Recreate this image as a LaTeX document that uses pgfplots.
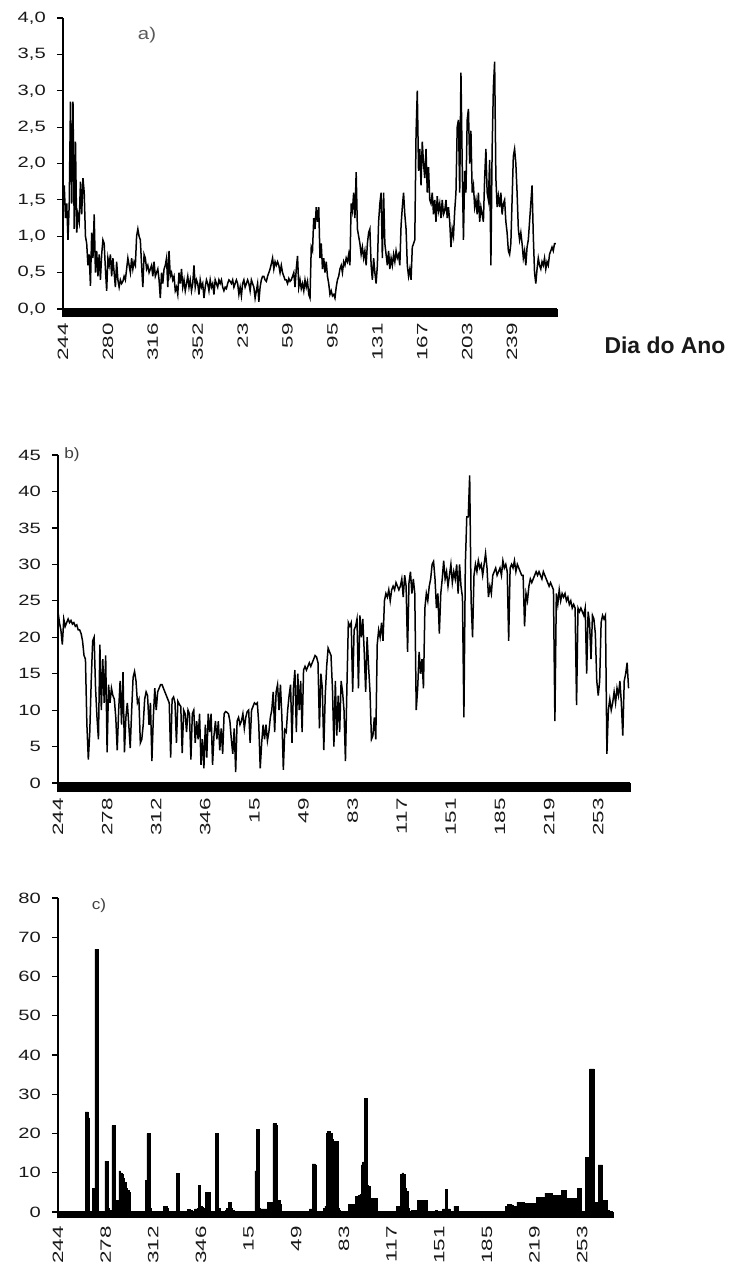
\documentclass[border=0pt]{standalone}
\usepackage{pgfplots}
\pgfplotsset{compat=1.18}
\usepackage{fontspec}
\setmainfont{Liberation Sans}
\begin{document}
\begin{tikzpicture}[x=1bp,y=1bp]
\path[use as bounding box] (0,0) rectangle (738,-1271);
\pgfplotsset{
  panel/.style={
    scale only axis,
    axis lines=left,
    axis line style={-, line width=1.3bp, black},
    xmin=0, xmax=396, ymin=0,
    tick align=outside,
    major tick length=6bp,
    tick style={black, line width=1.2bp},
    minor tick style={line width=1.5bp},
    minor xtick={0,1,...,396},
    xticklabel shift=8bp,
    yticklabel shift=11bp,
    xticklabel style={rotate=90, anchor=east, inner sep=0pt, xscale=1.5,
      font=\fontsize{15}{15}\selectfont, text=black!90},
    yticklabel style={anchor=east, inner sep=0pt, xscale=1.35,
      font=\fontsize{15}{15}\selectfont, text=black!90},
    clip=false,
  }
}
% ---------------- panel a
\begin{axis}[panel, at={(63bp,-309bp)}, anchor=south west,
  width=494bp, height=291bp, ymax=4, minor tick length=8bp,
  ytick={0,0.5,1,1.5,2,2.5,3,3.5,4},
  yticklabels={{0,0},{0,5},{1,0},{1,5},{2,0},{2,5},{3,0},{3,5},{4,0}},
  xtick={0,36,72,108,144,180,216,252,288,324,360},
  xticklabels={244,280,316,352,23,59,95,131,167,203,239}]
\addplot[black, line width=1.5bp, mark=none] table[row sep=\\, header=false, x expr=\coordindex, y index=0] {
1.5\\1.7\\1.25\\1.45\\0.95\\1.45\\2.85\\1.45\\2.85\\1.1\\
2.3\\1.05\\1.3\\1.2\\1.75\\1.3\\1.8\\1.6\\1.0\\0.9\\
0.6\\0.75\\0.32\\1.05\\0.7\\1.3\\0.5\\0.8\\0.45\\0.75\\
0.4\\0.75\\0.95\\0.9\\0.55\\0.25\\0.7\\0.6\\0.75\\0.45\\
0.7\\0.5\\0.3\\0.65\\0.4\\0.3\\0.4\\0.35\\0.38\\0.45\\
0.4\\0.55\\0.7\\0.6\\0.5\\0.7\\0.55\\0.65\\0.6\\1.0\\
1.1\\1.0\\0.95\\0.6\\0.3\\0.75\\0.7\\0.55\\0.6\\0.5\\
0.55\\0.6\\0.45\\0.65\\0.45\\0.5\\0.55\\0.4\\0.15\\0.5\\
0.35\\0.55\\0.6\\0.7\\0.3\\0.8\\0.45\\0.5\\0.4\\0.45\\
0.25\\0.3\\0.2\\0.5\\0.35\\0.55\\0.3\\0.4\\0.25\\0.35\\
0.45\\0.3\\0.4\\0.25\\0.35\\0.6\\0.3\\0.4\\0.35\\0.2\\
0.4\\0.3\\0.35\\0.15\\0.3\\0.4\\0.35\\0.25\\0.4\\0.3\\
0.35\\0.2\\0.4\\0.35\\0.3\\0.4\\0.35\\0.4\\0.3\\0.25\\
0.3\\0.28\\0.35\\0.4\\0.38\\0.35\\0.4\\0.3\\0.35\\0.4\\
0.35\\0.2\\0.3\\0.18\\0.35\\0.4\\0.3\\0.35\\0.4\\0.35\\
0.25\\0.4\\0.35\\0.3\\0.15\\0.25\\0.35\\0.1\\0.3\\0.4\\
0.45\\0.45\\0.4\\0.38\\0.45\\0.5\\0.55\\0.62\\0.7\\0.55\\
0.65\\0.6\\0.65\\0.6\\0.5\\0.6\\0.5\\0.45\\0.4\\0.4\\
0.35\\0.42\\0.38\\0.4\\0.45\\0.5\\0.3\\0.55\\0.73\\0.3\\
0.4\\0.28\\0.35\\0.25\\0.4\\0.3\\0.38\\0.2\\0.15\\0.85\\
0.8\\1.25\\1.1\\1.4\\1.2\\1.4\\0.7\\0.9\\0.55\\0.7\\
0.5\\0.65\\0.45\\0.35\\0.2\\0.25\\0.18\\0.2\\0.15\\0.3\\
0.4\\0.45\\0.55\\0.6\\0.5\\0.65\\0.6\\0.7\\0.65\\0.75\\
0.6\\1.45\\1.35\\1.6\\1.25\\1.88\\1.1\\1.0\\0.9\\0.75\\
0.85\\0.7\\0.8\\0.6\\0.9\\1.05\\1.1\\0.6\\0.4\\0.7\\
0.5\\0.35\\0.6\\1.2\\1.45\\1.6\\0.7\\1.6\\0.9\\0.75\\
0.6\\0.8\\0.55\\0.7\\0.6\\0.75\\0.65\\0.8\\0.7\\0.75\\
0.6\\1.15\\1.4\\1.6\\1.3\\1.1\\0.6\\0.45\\0.55\\0.4\\
0.85\\0.9\\0.95\\2.4\\3.0\\1.9\\2.2\\1.7\\2.3\\2.0\\
1.8\\2.2\\1.6\\1.95\\1.5\\1.45\\1.6\\1.3\\1.5\\1.2\\
1.55\\1.35\\1.45\\1.25\\1.5\\1.3\\1.35\\1.5\\1.25\\1.4\\
1.2\\0.85\\1.1\\1.0\\1.35\\1.6\\2.5\\2.6\\1.6\\3.25\\
2.0\\0.95\\1.9\\1.6\\2.6\\2.75\\2.0\\2.45\\1.6\\1.7\\
1.4\\1.5\\1.3\\1.6\\1.2\\1.4\\1.3\\1.2\\1.8\\2.2\\
1.6\\1.5\\2.05\\0.6\\2.2\\3.05\\3.4\\1.8\\1.4\\1.55\\
1.4\\1.6\\1.3\\1.45\\1.5\\1.2\\1.05\\0.8\\0.75\\0.9\\
1.5\\2.1\\2.2\\2.0\\1.6\\1.1\\0.95\\1.05\\0.9\\0.7\\
0.8\\0.6\\0.85\\0.95\\1.2\\1.45\\1.7\\1.0\\0.5\\0.35\\
0.55\\0.7\\0.6\\0.55\\0.65\\0.6\\0.7\\0.55\\0.65\\0.6\\
0.75\\0.8\\0.85\\0.8\\0.9\\0.9\\
};
\end{axis}
% ---------------- panel b
\begin{axis}[panel, at={(58bp,-783bp)}, anchor=south west,
  width=572bp, height=328bp, ymax=45, minor tick length=9bp,
  xticklabel shift=9bp,
  ytick={0,5,10,15,20,25,30,35,40,45},
  yticklabels={0,5,10,15,20,25,30,35,40,45},
  xtick={0,34,68,102,136,170,204,238,272,306,340,374},
  xticklabels={244,278,312,346,15,49,83,117,151,185,219,253}]
\addplot[black, line width=1.5bp, mark=none] table[row sep=\\, header=false, x expr=\coordindex, y index=0] {
23.5\\22\\21\\19\\22.5\\21.5\\22\\22.5\\22\\22.3\\
21.8\\22\\21.5\\21.7\\21\\21\\20.5\\19.5\\17.5\\17\\
8\\3.2\\7\\14\\19.5\\20\\13\\9\\6\\19\\
10\\17\\11\\17.5\\4.2\\13.5\\11\\13\\12\\11.5\\
9\\4.5\\10\\14\\8\\15.2\\4.2\\9\\11\\8\\
4.8\\10\\14.5\\15.3\\14\\11\\11.5\\5.5\\6\\8\\
11.5\\12.5\\12\\8\\11\\3\\9\\13\\10\\12.5\\
13\\13.5\\13.5\\13\\12.5\\12\\11.5\\11\\3.5\\11.5\\
11.8\\11\\5.5\\11.2\\10.8\\10.5\\4.1\\10\\9.5\\7\\
10\\9.5\\3.2\\9.5\\10\\5.5\\8.5\\6\\9.5\\2.5\\
6\\2\\8\\3.5\\9.5\\7\\9.5\\2.5\\6.5\\8.5\\
6\\8.5\\4.5\\7.5\\4\\9.5\\9.8\\9.7\\9.5\\8.5\\
6\\4\\7.5\\1.5\\8.5\\9\\8\\8.5\\9.5\\7.5\\
9\\9.8\\10\\5.5\\10\\10.5\\11\\10.8\\11\\8\\
2\\5.5\\8\\6\\8\\5.8\\7\\9\\10\\12.5\\
7\\12.5\\13.5\\10\\13.5\\9\\1.8\\7.3\\7\\10\\
12\\13.5\\5.5\\13\\15.5\\7\\15\\10\\14\\7\\
15.5\\16\\15.5\\16\\16.5\\16\\16.5\\17\\17.5\\17.3\\
16.5\\7.5\\15\\13\\4.5\\12\\16\\18.5\\18\\17.5\\
13\\5\\14\\6.5\\12\\7\\14\\12.5\\10\\3\\
13\\22\\21.5\\22\\12.5\\21\\21.5\\22.5\\13\\23\\
20\\22.5\\18\\12.5\\20\\16\\12.5\\6\\6.5\\9\\
6\\19\\21\\20\\22\\19.5\\25\\26\\25.5\\26.5\\
25\\26.5\\27\\26.5\\27.5\\27\\26.5\\27\\28\\25.5\\
28.5\\27\\18\\27.5\\29\\26\\28\\26\\10\\13\\
18\\15\\17\\13\\24\\26\\25\\27\\28\\30\\
30.4\\28\\24\\26\\20.5\\26\\28\\30.5\\28\\29\\
27\\28.5\\30\\27.5\\29\\28\\30\\26\\30\\27\\
25.5\\9\\30\\36.5\\36.5\\42.2\\25\\20\\28.5\\30\\
29\\30.5\\29.5\\30\\28.5\\30\\31.5\\29.5\\25.5\\27\\
26\\28.5\\29\\29.5\\28.5\\29\\29.5\\28.5\\30.5\\29.5\\
30\\29\\19.5\\29.5\\30\\29.5\\30.5\\29\\30\\29.5\\
29\\28.5\\28.5\\21.5\\26\\25\\27\\28\\27.5\\28\\
28.5\\29\\28.5\\29\\28.5\\28\\29\\28.5\\28\\27.5\\
27\\27.5\\27\\26.5\\8.5\\26\\24.5\\26.5\\25\\26\\
25.5\\26\\25\\25.5\\24.5\\25\\24\\24.5\\24\\10.7\\
24\\23.5\\24\\23.5\\23\\24\\15\\23.5\\22\\17\\
23\\22.5\\20.5\\14\\12\\14\\22\\23\\22.5\\23\\
4\\10\\11.5\\10\\11\\12.5\\11\\13\\12\\14\\
11\\6.5\\14\\15\\16.5\\13\\
};
\end{axis}
% ---------------- panel c
\begin{axis}[panel, at={(58bp,-1212bp)}, anchor=south west,
  width=555bp, height=314bp, ymax=80, minor tick length=6bp,
  ytick={0,10,20,30,40,50,60,70,80},
  yticklabels={0,10,20,30,40,50,60,70,80},
  xtick={0,34,68,102,136,170,204,238,272,306,340,374},
  xticklabels={244,278,312,346,15,49,83,117,151,185,219,253}]
\addplot[ybar, bar width=1.7bp, bar shift=0pt, fill=black, draw=black, line width=0.5bp] coordinates {
(20,25.5) (21,25.5) (22,24) (25,6) (26,6) (27,67) (28,67)
(34,13) (35,13) (36,1) (37,0.5) (38,0.5) (39,22) (40,22) (41,3) (42,3) (43,3)
(44,10.5) (45,10) (46,9.5) (47,8.5) (48,7.5) (49,6) (50,5.5) (51,5)
(63,8) (64,20) (65,20) (66,1)
(76,1.5) (77,1.5) (78,1) (85,9.8) (86,9.8)
(93,0.7) (94,0.7) (95,0.5) (98,0.8) (99,0.8) (100,1) (101,6.7) (102,1.5) (103,1.2) (104,1)
(106,5) (107,5) (108,5) (113,20) (114,20) (115,1)
(120,0.5) (121,1) (122,2.5) (123,2.5) (124,1) (125,0.5)
(141,10.5) (142,21) (143,21) (144,1) (145,0.8) (146,0.8) (147,0.8) (148,0.8) (149,0.8)
(150,2.5) (151,2.5) (152,2.5) (153,2.5) (154,22.5) (155,22.5) (156,22) (157,3) (158,3) (159,2)
(180,0.8) (181,0.8) (182,12.3) (183,12.3) (184,12)
(190,1) (191,1.5) (192,20) (193,20.5) (194,20.5) (195,20) (196,18.5) (197,18) (198,18) (199,18) (200,1) (201,0.5)
(208,2) (209,2) (210,2) (211,2) (212,2) (213,4) (214,4) (215,4.2) (216,4.5)
(217,12) (218,12.8) (219,29) (220,29) (221,6.8) (222,6.5)
(223,3.5) (224,3.5) (225,3.5) (226,3.5) (227,3.5)
(242,1.5) (243,1.5) (244,1.5) (245,9.5) (246,10) (247,9.5) (248,6) (249,5.2) (250,1)
(253,0.5) (254,0.5) (255,0.5) (257,3) (258,3) (259,0.5)
(260,3) (261,3) (262,3) (263,3) (270,0.5) (275,0.8) (276,0.8) (277,5.8) (278,0.8) (279,0.8)
(283,1.5) (284,1.5) (285,1.5)
(320,1.5) (321,2) (322,2) (323,2) (324,1.8) (325,1.5) (326,1.5) (327,1.5)
(328,2.5) (329,2.5) (330,2.5) (331,2.5) (332,2.5)
(333,2.2) (334,2.2) (335,2.2) (336,2.2) (337,2.2) (338,2.2) (339,2.2) (340,2.2) (341,2.2)
(342,3.7) (343,3.7) (344,3.7) (345,3.7) (346,3.7) (347,3.7)
(348,4.8) (349,4.8) (350,4.8) (351,4.8) (352,4.8)
(353,4.2) (354,4.2) (355,4.2) (356,4.2) (357,4.2) (358,4.2) (359,4.2)
(360,5.5) (361,5.5) (362,5.5)
(363,3.5) (364,3.5) (365,3.5) (366,3.5) (367,3.5) (368,3.5) (369,3.5)
(371,6) (372,6) (373,6) (377,14) (378,14) (379,14) (380,36.5) (381,36.5) (382,36.5)
(383,2.5) (384,2.5) (385,2.5) (386,12) (387,12) (388,12) (389,3) (390,3) (391,3) (392,0.5) (393,0.5)
};
\end{axis}
% ---------------- labels
\node[font=\fontsize{17}{17}\selectfont, text=black!65, xscale=1.2] at (147bp,-35bp) {a)};
\node[font=\fontsize{15}{15}\selectfont, text=black!75, xscale=1.15] at (72bp,-455bp) {b)};
\node[font=\fontsize{15}{15}\selectfont, text=black!75, xscale=1.15] at (99bp,-906bp) {c)};
\node[font=\fontsize{23}{23}\selectfont\bfseries, text=black!90] at (665bp,-345bp) {Dia do Ano};
\end{tikzpicture}
\end{document}
